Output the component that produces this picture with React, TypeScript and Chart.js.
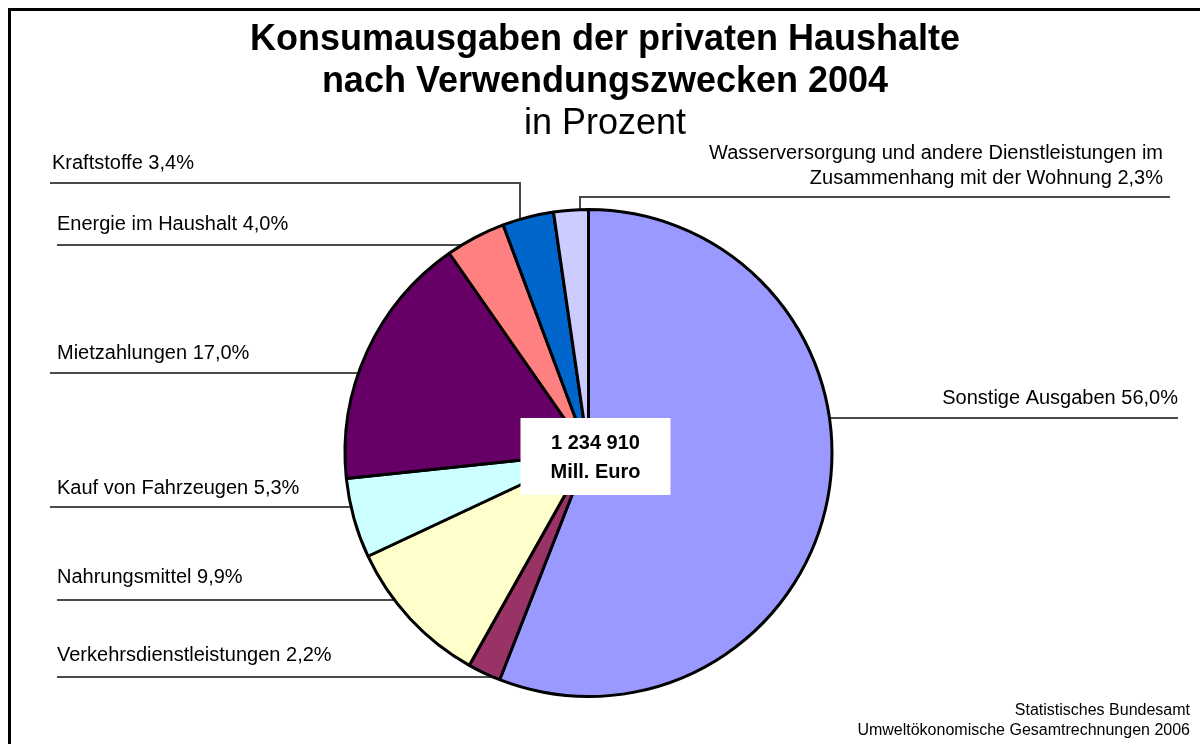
import React, { useEffect, useRef } from "react";
import { Chart, registerables } from "chart.js";

Chart.register(...registerables);

const titleLines = ["Konsumausgaben der privaten Haushalte", "nach Verwendungszwecken 2004"];
const subtitleText = "in Prozent";
const categories: (string | string[])[] = [
  "Sonstige Ausgaben",
  "Verkehrsdienstleistungen",
  "Nahrungsmittel",
  "Kauf von Fahrzeugen",
  "Mietzahlungen",
  "Energie im Haushalt",
  "Kraftstoffe",
  ["Wasserversorgung und andere Dienstleistungen im", "Zusammenhang mit der Wohnung"],
];
const shares = [56.0, 2.2, 9.9, 5.3, 17.0, 4.0, 3.4, 2.3];
const sliceColors = ["#9999FF", "#993366", "#FFFFCC", "#CCFFFF", "#660066", "#FF8080", "#0066CC", "#CCCCFF"];
const centerLines = ["1 234 910", "Mill. Euro"];
const sourceLines = ["Statistisches Bundesamt", "Umweltökonomische Gesamtrechnungen 2006"];

type Layout = {
  tx: number; ty: number; align: "left" | "right";
  ly: number; lx: number; side?: "left" | "right"; dropX?: number; gap?: number;
};

const labelLayout: Layout[] = [
  { tx: 1178, ty: 398, align: "right", ly: 418, lx: 1178, side: "right" },
  { tx: 57, ty: 655, align: "left", ly: 677, lx: 57, side: "left" },
  { tx: 57, ty: 577, align: "left", ly: 600, lx: 57, side: "left" },
  { tx: 57, ty: 488, align: "left", ly: 507, lx: 50, side: "left" },
  { tx: 57, ty: 353, align: "left", ly: 373, lx: 50, side: "left" },
  { tx: 57, ty: 224, align: "left", ly: 245, lx: 57, side: "left" },
  { tx: 52, ty: 163, align: "left", ly: 183, lx: 50, dropX: 520 },
  { tx: 1163, ty: 153, align: "right", ly: 197, lx: 1170, dropX: 580, gap: 25 },
];

const FONT = '"Liberation Sans", Arial, Helvetica, sans-serif';
const BORDER = 3;

function fmt(v: number) {
  return v.toFixed(1).replace(".", ",") + "%";
}

const overlayPlugin = {
  id: "overlay",
  beforeDatasetsDraw(chart: any) {
    const ctx: CanvasRenderingContext2D = chart.ctx;
    const arc = chart.getDatasetMeta(0).data[0];
    const cx = arc.x, cy = arc.y;
    const R = arc.outerRadius + BORDER / 2 - 1;
    ctx.save();
    ctx.strokeStyle = "#4a4a4a";
    ctx.lineWidth = 2;
    labelLayout.forEach((L) => {
      ctx.beginPath();
      if (L.dropX != null) {
        const dy = Math.sqrt(Math.max(R * R - (L.dropX - cx) ** 2, 0));
        ctx.moveTo(L.lx, L.ly);
        ctx.lineTo(L.dropX, L.ly);
        ctx.lineTo(L.dropX, cy - dy);
      } else {
        const dx = Math.sqrt(Math.max(R * R - (L.ly - cy) ** 2, 0));
        const ex = L.side === "left" ? cx - dx : cx + dx;
        ctx.moveTo(L.lx, L.ly);
        ctx.lineTo(ex, L.ly);
      }
      ctx.stroke();
    });
    ctx.restore();
  },
  afterDraw(chart: any) {
    const ctx: CanvasRenderingContext2D = chart.ctx;
    const arc = chart.getDatasetMeta(0).data[0];
    const cx = arc.x, cy = arc.y;
    ctx.save();
    ctx.fillStyle = "#000";
    ctx.textBaseline = "middle";

    // title
    ctx.textAlign = "center";
    ctx.font = `bold 36px ${FONT}`;
    ctx.fillText(titleLines[0], 605, 40);
    ctx.fillText(titleLines[1], 605, 82);
    ctx.font = `36px ${FONT}`;
    ctx.fillText(subtitleText, 605, 124);

    // labels
    ctx.font = `20px ${FONT}`;
    labelLayout.forEach((L, i) => {
      const cat = categories[i];
      const lines = Array.isArray(cat) ? [...cat] : [cat];
      lines[lines.length - 1] = lines[lines.length - 1] + " " + fmt(shares[i]);
      ctx.textAlign = L.align;
      lines.forEach((t, k) => ctx.fillText(t, L.tx, L.ty + k * (L.gap || 24)));
    });

    // center box
    ctx.fillStyle = "#fff";
    ctx.fillRect(cx - 68, cy - 35, 150, 77);
    ctx.fillStyle = "#000";
    ctx.textAlign = "center";
    ctx.font = `bold 20px ${FONT}`;
    ctx.fillText(centerLines[0], cx + 7, cy - 10);
    ctx.fillText(centerLines[1], cx + 7, cy + 19);

    // source
    ctx.textAlign = "right";
    ctx.font = `16px ${FONT}`;
    ctx.fillText(sourceLines[0], 1190, 711);
    ctx.fillText(sourceLines[1], 1190, 731);

    // frame
    ctx.strokeStyle = "#000";
    ctx.lineWidth = 3;
    ctx.strokeRect(9.5, 9.5, 1250, 800);
    ctx.restore();
  },
};

export default function App() {
  const ref = useRef<HTMLCanvasElement | null>(null);
  useEffect(() => {
    if (!ref.current) return;
    const chart = new Chart(ref.current, {
      type: "pie",
      data: {
        labels: categories as any,
        datasets: [
          {
            data: shares,
            backgroundColor: sliceColors,
            borderColor: "#000",
            borderWidth: BORDER,
          },
        ],
      },
      options: {
        responsive: false,
        animation: false,
        devicePixelRatio: 1,
        layout: { padding: { left: 343.5, right: 366.5, top: 208, bottom: 46 } },
        plugins: {
          legend: { display: false },
          tooltip: { enabled: false },
          title: { display: false },
        },
      },
      plugins: [overlayPlugin],
    });
    return () => chart.destroy();
  }, []);
  return (
    <div style={{ position: "absolute", left: 0, top: 0, width: 1200, height: 744, background: "#fff" }}>
      <canvas ref={ref} width={1200} height={744} style={{ display: "block" }} />
    </div>
  );
}
